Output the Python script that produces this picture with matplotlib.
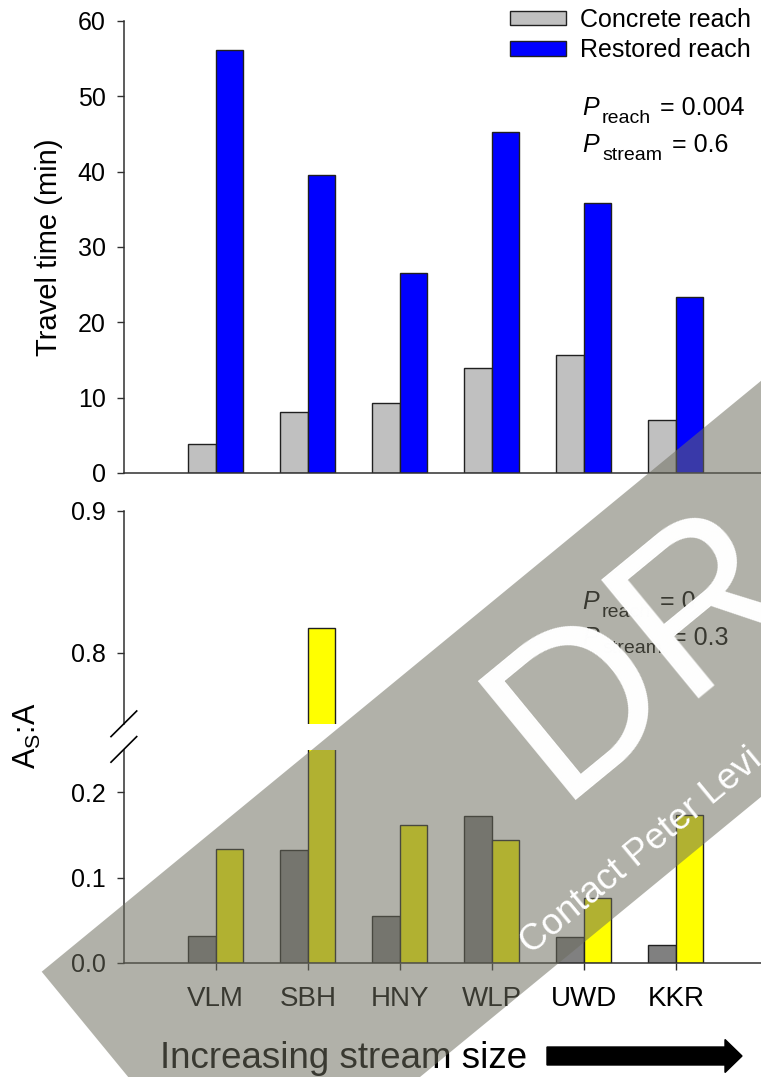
import matplotlib
matplotlib.use('Agg')
import matplotlib.pyplot as plt
from matplotlib.patches import Polygon, FancyArrow
from matplotlib.lines import Line2D
import numpy as np

plt.rcParams['font.family'] = ['Liberation Sans', 'DejaVu Sans']

sites = ['VLM', 'SBH', 'HNY', 'WLP', 'UWD', 'KKR']
travel_concrete = [3.8, 8.1, 9.3, 13.9, 15.7, 7.0]
travel_restored = [56.1, 39.6, 26.6, 45.3, 35.8, 23.3]
ratio_concrete = [0.032, 0.132, 0.055, 0.172, 0.030, 0.021]
ratio_restored = [0.134, 0.817, 0.161, 0.144, 0.076, 0.173]

W, H = 761, 1077
fig = plt.figure(figsize=(W / 100, H / 100), dpi=100)


def fx(px):
    return px / W


def fy(py):
    return 1 - py / H


def pos(left, top, right, bottom):
    return [fx(left), fy(bottom), fx(right) - fx(left), fy(top) - fy(bottom)]


x0, xr = 123.8, 123.8 + 7 * 92
ax1 = fig.add_axes(pos(x0, 21, xr, 473))
ax2 = fig.add_axes(pos(x0, 510.5, xr, 723.7))
ax3 = fig.add_axes(pos(x0, 749.6, xr, 962.8))

x = np.arange(1, len(sites) + 1)
bw = 0.3
spine_col = '#303030'

ax1.bar(x - bw, travel_concrete, bw, align='edge', color='#c0c0c0',
        edgecolor='#202020', linewidth=1, label='Concrete reach')
ax1.bar(x, travel_restored, bw, align='edge', color='#0000ff',
        edgecolor='#202020', linewidth=1, label='Restored reach')
ax1.set_ylim(0, 60)
ax1.set_yticks(range(0, 61, 10))

for ax in (ax2, ax3):
    ax.bar(x - bw, ratio_concrete, bw, align='edge', color='#808080',
           edgecolor='#202020', linewidth=1)
    ax.bar(x, ratio_restored, bw, align='edge', color='#ffff00',
           edgecolor='#202020', linewidth=1)
ax2.set_ylim(0.75, 0.9)
ax2.set_yticks([0.8, 0.9])
ax2.set_yticklabels(['0.8', '0.9'])
ax3.set_ylim(0, 0.25)
ax3.set_yticks([0.0, 0.1, 0.2])
ax3.set_yticklabels(['0.0', '0.1', '0.2'])

for ax in (ax1, ax2, ax3):
    ax.set_xlim(0, 7)
    for s in ('top', 'right'):
        ax.spines[s].set_visible(False)
    for s in ('left', 'bottom'):
        ax.spines[s].set_color(spine_col)
        ax.spines[s].set_linewidth(1.1)
    ax.tick_params(axis='y', direction='out', length=5, width=1,
                   color=spine_col, labelsize=18, pad=8)
    ax.set_facecolor('none')

ax1.tick_params(axis='x', bottom=False, labelbottom=False)
ax2.spines['bottom'].set_visible(False)
ax2.tick_params(axis='x', bottom=False, labelbottom=False)
ax3.set_xticks(x)
ax3.set_xticklabels(sites)
ax3.tick_params(axis='x', direction='out', length=5, width=1,
                color=spine_col, labelsize=20, pad=12)

ax1.legend(loc='upper left', bbox_to_anchor=(fx(509.7), fy(8)),
           bbox_transform=fig.transFigure, frameon=False, fontsize=18,
           borderpad=0, borderaxespad=0, handlelength=2.25,
           handleheight=0.52, handletextpad=0.56, labelspacing=0.25)

# y labels
fig.text(fx(57), fy(247), 'Travel time (min)', rotation=90, fontsize=21,
         ha='center', va='baseline', rotation_mode='anchor')
fig.text(fx(36), fy(736), r'A$_{\mathregular{S}}$:A', rotation=90,
         fontsize=22, ha='center', va='baseline', rotation_mode='anchor')

# statistics text
def ptext(y_base, sub, rest, subx, restx):
    fig.text(fx(582.5), fy(y_base), 'P', fontsize=18, style='italic')
    fig.text(fx(subx), fy(y_base + 8), sub, fontsize=14)
    fig.text(fx(restx), fy(y_base), rest, fontsize=18)


ptext(115, 'reach', '= 0.004', 602, 660)
ptext(151.7, 'stream', '= 0.6', 602, 672)
ptext(609.3, 'reach', '= 0', 602, 660)
ptext(645, 'stream', '= 0.3', 602, 672)

# x label and arrow
fig.text(fx(160), fy(1068), 'Increasing stream size', fontsize=26.5,
         ha='left', va='baseline')
fig.add_artist(FancyArrow(5.47, (H - 1056) / 100, 1.95, 0, width=0.18,
                          head_width=0.33, head_length=0.17,
                          length_includes_head=True, color='black',
                          transform=fig.dpi_scale_trans))

# axis break marks
for cy in (723.8, 749.4):
    fig.add_artist(Line2D([fx(111), fx(136.7)], [fy(cy + 12.8), fy(cy - 12.8)],
                          color='black', linewidth=1.2,
                          transform=fig.transFigure))

# watermark band
th = np.deg2rad(39.4)
d = np.array([np.cos(th), -np.sin(th)])
n = np.array([np.sin(th), np.cos(th)])
A = np.array([41.7, 971.7])
B = A + 321.5 * n
corners = [A, A + 1400 * d, B + 1400 * d, B]
fig.add_artist(Polygon([(fx(p[0]), fy(p[1])) for p in corners], closed=True,
                       facecolor=(109 / 255, 109 / 255, 94 / 255), alpha=0.53,
                       edgecolor='none', transform=fig.transFigure, zorder=10))
fig.text(fx(558), fy(800), 'DR', fontsize=160, color='white',
         rotation=39.4, rotation_mode='anchor', ha='left', va='baseline',
         zorder=11)
fig.text(fx(531), fy(955), 'Contact Peter Levi', fontsize=26.5, color='white',
         rotation=39.6, rotation_mode='anchor', ha='left', va='baseline',
         zorder=11)

fig.savefig('out.png', dpi=100)
